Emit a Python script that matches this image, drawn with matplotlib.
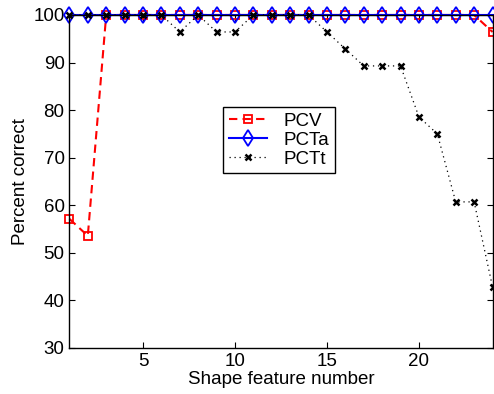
import matplotlib
matplotlib.use("Agg")
from matplotlib import pyplot as plt
import numpy as np

plt.rcParams['font.family'] = ['Liberation Sans', 'DejaVu Sans']

features = list(range(1, 25))
pcv = [57.14, 53.57] + [100.0] * 21 + [96.43]
pcta = [100.0] * 24
pctt = [100, 100, 100, 100, 100, 100, 96.43, 100, 96.43, 96.43,
        100, 100, 100, 100, 96.43, 92.86, 89.29, 89.29, 89.29, 78.57,
        75.0, 60.71, 60.71, 42.86]

fig = plt.figure(figsize=(4.94, 3.94), dpi=100)
ax = fig.add_axes([0.1405, 0.1168, 0.8565, 0.8452])

ax.plot(features, pcv, color='r', ls=(0, (4, 2.5)), lw=1.5, marker='s',
        ms=6, mfc='none', mew=1.3, label='PCV', clip_on=False)
ax.plot(features, pcta, 'b-d', lw=1.5, ms=8.5, mfc='none', mew=1.3,
        label='PCTa', clip_on=False)
ax.plot(features, pctt, color='k', ls=(0, (1, 3)), lw=0.9, marker='x',
        ms=5, mew=1.8, label='PCTt', clip_on=False)

ax.set_xlim(1, 24)
ax.set_ylim(30, 100)
ax.set_xticks([5, 10, 15, 20])
ax.set_yticks(np.arange(30, 101, 10))
ax.tick_params(direction='in', top=True, right=True, labelsize=13.5, length=4)
for s in ax.spines.values():
    s.set_linewidth(1.0)

ax.set_xlabel('Shape feature number', fontsize=13.5, labelpad=1)
ax.set_ylabel('Percent correct', fontsize=13.5, labelpad=3)

leg = ax.legend(loc='upper left', bbox_to_anchor=(0.364, 0.724),
                fontsize=13.5, fancybox=False, framealpha=1,
                edgecolor='black', borderpad=0.3, labelspacing=0.1,
                handlelength=2.0, handletextpad=0.9, borderaxespad=0)
leg.get_frame().set_linewidth(1.0)

fig.savefig('out.png', dpi=100)
